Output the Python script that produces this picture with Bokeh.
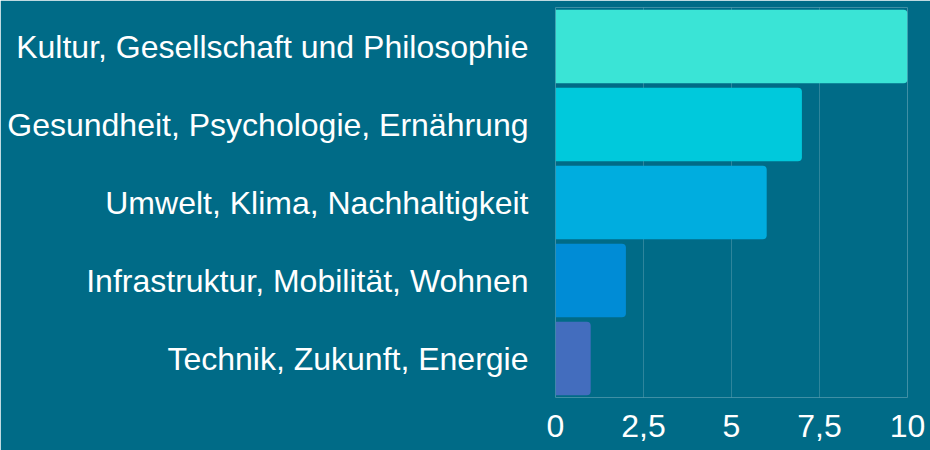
from bokeh.plotting import figure
from bokeh.models import ColumnDataSource, FixedTicker
from bokeh.embed import file_html
from bokeh.resources import INLINE

categories = [
    "Kultur, Gesellschaft und Philosophie",
    "Gesundheit, Psychologie, Ernährung",
    "Umwelt, Klima, Nachhaltigkeit",
    "Infrastruktur, Mobilität, Wohnen",
    "Technik, Zukunft, Energie",
]
values = [10, 7, 6, 2, 1]
bar_colors = ["#3AE4D6", "#00C9DC", "#00ADDF", "#008CD6", "#436DBE"]
tick_values = [0, 2.5, 5, 7.5, 10]
tick_labels = ["0", "2,5", "5", "7,5", "10"]

BG = "#006B87"
FONT = "Liberation Sans"

source = ColumnDataSource(dict(cat=categories, val=values, color=bar_colors))

p = figure(
    y_range=list(reversed(categories)),
    x_range=(0, 10),
    width=930,
    height=450,
    output_backend="svg",
    toolbar_location=None,
    min_border_left=555,
    min_border_right=23,
    min_border_top=7,
    min_border_bottom=53,
)
p.y_range.range_padding = 0
p.background_fill_color = BG
p.border_fill_color = BG
p.outline_line_color = None

p.hbar(y="cat", right="val", left=0, height=0.94, fill_color="color",
       line_color=None, source=source, border_radius=(0, 4, 4, 0))

p.ygrid.grid_line_color = None
p.xgrid.grid_line_color = "#ffffff"
p.xgrid.grid_line_alpha = 0.18
p.xgrid.ticker = FixedTicker(ticks=tick_values)

p.xaxis.ticker = FixedTicker(ticks=tick_values)
p.xaxis.major_label_overrides = {v: l for v, l in zip(tick_values, tick_labels)}

for ax in (p.xaxis[0], p.yaxis[0]):
    ax.axis_line_color = None
    ax.major_tick_line_color = None
    ax.minor_tick_line_color = None
    ax.major_label_text_color = "#ffffff"
    ax.major_label_text_font = FONT
    ax.major_label_text_font_size = "32px"

p.yaxis.major_label_standoff = 21
p.xaxis.major_label_standoff = 11

open("out.html", "w").write(file_html(p, INLINE))
